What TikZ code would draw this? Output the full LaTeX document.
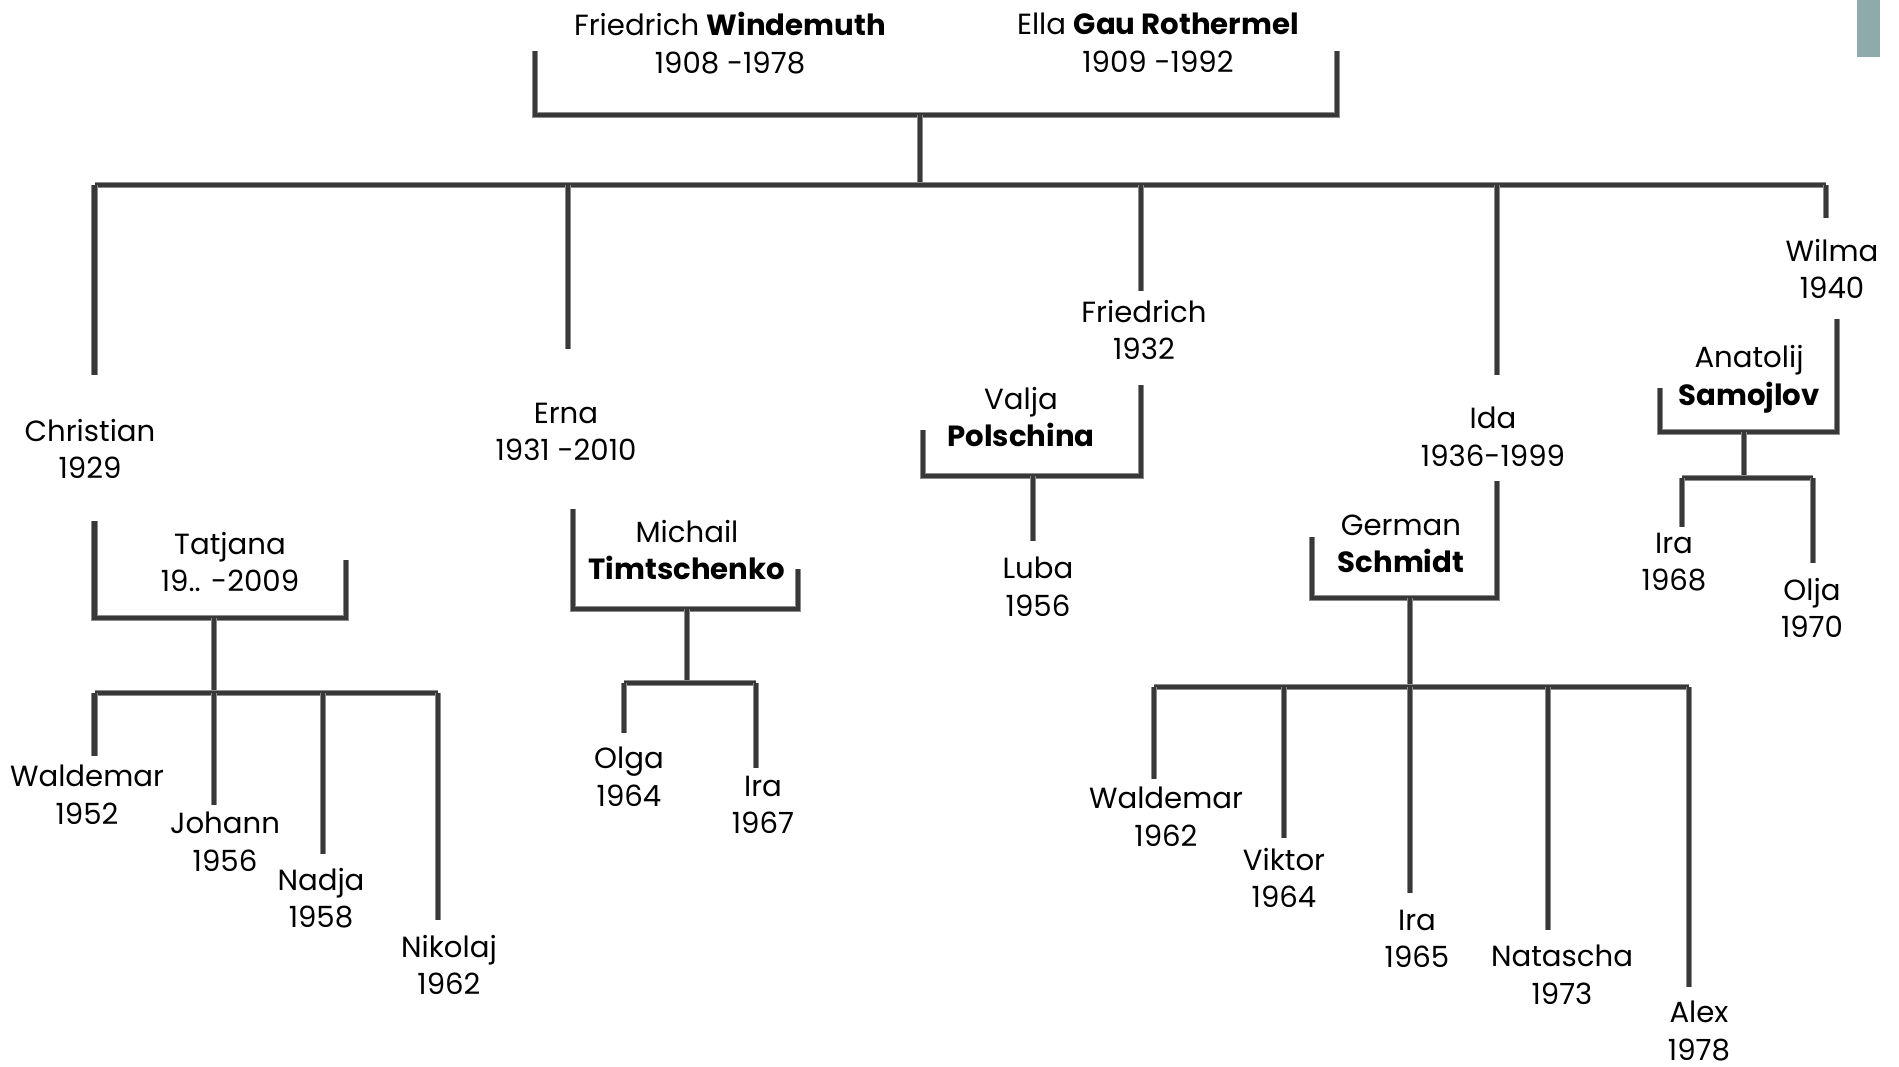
\documentclass[tikz,border=0pt]{standalone}
\usepackage{fontspec}
\setmainfont{Poppins}
\usetikzlibrary{calc}
\definecolor{slidebar}{RGB}{142,170,171}
\tikzset{
	bar/.style={line width=1.3pt, draw=black!78, line join=miter,
		preaction={draw=black!45, line width=1.9pt}},
	person/.style={align=center, inner sep=0pt, font=\fontsize{8.3}{10.7}\selectfont}
}

\begin{document}
\begin{tikzpicture}[x=0.01cm, y=-0.01cm]
			%%%%% START %%%%%
			\useasboundingbox (0,0) rectangle (1899,1067);
			\fill[slidebar] (1857,0) rectangle (1880,57);
			
			% names
			\node[person] (windemuth) at (730,43) {Friedrich \textbf{Windemuth}\\1908 -1978};
			\node[person] (ella) at (1158,43) {Ella \textbf{Gau Rothermel}\\1909 -1992};
			
			\node[person] (christian) at (90,449) {Christian\\1929};
			\node[person] (erna) at (566,432) {Erna\\1931 -2010};
			\node[person] (friedrich) at (1144,330) {Friedrich\\1932};
			\node[person] (ida) at (1493,437) {Ida\\1936-1999};
			\node[person] (wilma) at (1832,269) {Wilma\\1940};
			
			\node[person] (tatjana) at (230,562) {Tatjana\\19.. -2009};
			\node[person] (michail) at (687,550) {Michail\\\textbf{Timtschenko}};
			\node[person] (valja) at (1021,417) {Valja\\\textbf{Polschina}};
			\node[person] (german) at (1401,544) {German\\\textbf{Schmidt}};
			\node[person] (anatolij) at (1749,379) {Anatolij\\\textbf{Samojlov}};
			
			\node[person] (waldemarA) at (87,795) {Waldemar\\1952};
			\node[person] (johann) at (225,842) {Johann\\1956};
			\node[person] (nadja) at (321,898) {Nadja\\1958};
			\node[person] (nikolaj) at (449,965) {Nikolaj\\1962};
			
			\node[person] (olga) at (629,777) {Olga\\1964};
			\node[person] (iraA) at (763,805) {Ira\\1967};
			
			\node[person] (luba) at (1038,587) {Luba\\1956};
			
			\node[person] (waldemarB) at (1166,817) {Waldemar\\1962};
			\node[person] (viktor) at (1284,878) {Viktor\\1964};
			\node[person] (iraB) at (1417,939) {Ira\\1965};
			\node[person] (natascha) at (1562,975) {Natascha\\1973};
			\node[person] (alex) at (1699,1031) {Alex\\1978};
			
			\node[person] (iraC) at (1674,562) {Ira\\1968};
			\node[person] (olja) at (1812,608) {Olja\\1970};
			
			% line ends
			\coordinate (pL) at (535,51);
			\coordinate (pR) at (1337,51);
			\coordinate (pB) at (920,115);
			\coordinate (pJ) at (920,185);
			
			\coordinate (christianT) at (94.5,375);
			\coordinate (ernaT) at (568,349);
			\coordinate (friedrichT) at (1141,291);
			\coordinate (idaT) at (1497,375);
			\coordinate (wilmaT) at (1826,218);
			
			\coordinate (chL) at (94.5,521);
			\coordinate (chR) at (346,560);
			\coordinate (chB) at (214,618);
			\coordinate (chJ) at (214,693);
			\coordinate (waldemarAT) at (94.5,756);
			\coordinate (johannT) at (214,805);
			\coordinate (nadjaT) at (323,854);
			\coordinate (nikolajT) at (438,920);
			
			\coordinate (erL) at (573,509);
			\coordinate (erR) at (798,569);
			\coordinate (erB) at (687,609);
			\coordinate (erJ) at (687,683);
			\coordinate (olgaT) at (624,733);
			\coordinate (iraAT) at (756,768);
			
			\coordinate (frL) at (923,430);
			\coordinate (frR) at (1141,385);
			\coordinate (frB) at (1033,476);
			\coordinate (lubaT) at (1033,541);
			
			\coordinate (idL) at (1312,537);
			\coordinate (idR) at (1497,481);
			\coordinate (idB) at (1410,598);
			\coordinate (idJ) at (1410,687);
			\coordinate (waldemarBT) at (1154,779);
			\coordinate (viktorT) at (1284,838);
			\coordinate (iraBT) at (1410,893);
			\coordinate (nataschaT) at (1548,930);
			\coordinate (alexT) at (1689,987);
			
			\coordinate (wiL) at (1660,388);
			\coordinate (wiR) at (1837,319);
			\coordinate (wiB) at (1744,432);
			\coordinate (wiJ) at (1744,478);
			\coordinate (iraCT) at (1682,527);
			\coordinate (oljaT) at (1813,563);
			
			% brackets
			\foreach \c in {p,ch,er,fr,id,wi}{
				\draw[bar] (\c L) -- (\c L |- \c B) -- (\c R |- \c B) -- (\c R);
			}
			\draw[bar] (pB) -- (pJ);
			\draw[bar] (chB) -- (chJ);
			\draw[bar] (erB) -- (erJ);
			\draw[bar] (frB) -- (lubaT);
			\draw[bar] (idB) -- (idJ);
			\draw[bar] (wiB) -- (wiJ);
			
			% children
			\draw[bar] (christianT |- pJ) -- (wilmaT |- pJ);
			\foreach \k in {christian,erna,friedrich,ida,wilma}
				\draw[bar] (\k T |- pJ) -- (\k T);
			
			\draw[bar] (waldemarAT |- chJ) -- (nikolajT |- chJ);
			\foreach \k in {waldemarA,johann,nadja,nikolaj}
				\draw[bar] (\k T |- chJ) -- (\k T);
			
			\draw[bar] (olgaT |- erJ) -- (iraAT |- erJ);
			\foreach \k in {olga,iraA}
				\draw[bar] (\k T |- erJ) -- (\k T);
			
			\draw[bar] (waldemarBT |- idJ) -- (alexT |- idJ);
			\foreach \k in {waldemarB,viktor,iraB,natascha,alex}
				\draw[bar] (\k T |- idJ) -- (\k T);
			
			\draw[bar] (iraCT |- wiJ) -- (oljaT |- wiJ);
			\foreach \k in {iraC,olja}
				\draw[bar] (\k T |- wiJ) -- (\k T);
			
			%%%%% END %%%%%
\end{tikzpicture}
\end{document}
